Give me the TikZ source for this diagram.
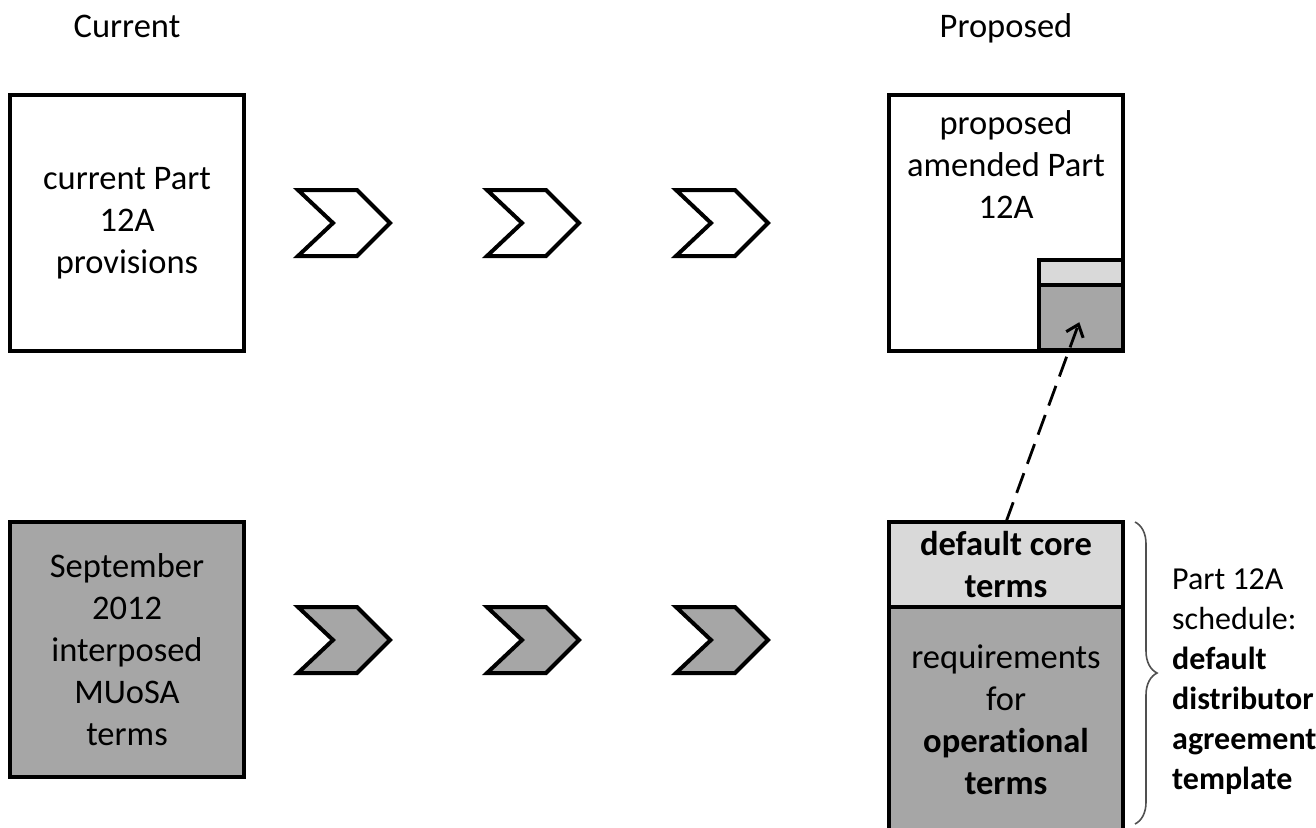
\documentclass[tikz,border=0pt]{standalone}
\usepackage{fontspec}
\setmainfont{Carlito}[Ligatures=NoCommon]
\usetikzlibrary{decorations.pathreplacing,arrows.meta,calc}

\definecolor{dgray}{HTML}{A6A6A6}
\definecolor{lgray}{HTML}{D9D9D9}
\definecolor{bracegray}{HTML}{505050}

\tikzset{
  txt/.style={font=\fontsize{34.5}{42}\selectfont, inner sep=0pt, align=center},
  box/.style={draw=black, line width=4pt, rectangle, inner sep=0pt, outer sep=0pt},
  chevron/.pic={
    \draw[pic actions, line width=4pt, line join=miter]
      (-46,-33) -- (13,-33) -- (46,0) -- (13,33) -- (-46,33) -- (-11,0) -- cycle;
  }
}

\begin{document}
\begin{tikzpicture}[x=1pt,y=-1pt]
\useasboundingbox (0,0) rectangle (1316,827);
\clip (0,0) rectangle (1316,827);

% column headings
\node[txt, anchor=base] (hcur) at (127,37) {Current};
\node[txt, anchor=base] (hprop) at (1006,37) {Proposed};

% current column
\node[box, fill=white, minimum width=234, minimum height=256, txt] (cur) at (127,223)
  {current Part\\12A\\provisions};
\node[box, fill=dgray, minimum width=234, minimum height=255, txt] (sep) at (127,649.5)
  {September\\2012\\interposed\\MUoSA\\terms};

% progression chevrons
\foreach \cx/\nm in {344/a,533/b,722/c}{
  \pic[draw=black, fill=white] (top\nm) at (\cx,223) {chevron};
  \pic[draw=black, fill=dgray] (bot\nm) at (\cx,640) {chevron};
}

% proposed column, upper box with embedded schedule
\node[box, fill=white, minimum width=234, minimum height=256] (prop) at (1006,223) {};
\node[txt, anchor=center] (proptext) at (1006,165) {proposed\\amended Part\\12A};
\node[box, fill=lgray, minimum width=84, minimum height=25] (minicore) at (1081,272.5) {};
\node[box, fill=dgray, minimum width=84, minimum height=65] (miniops) at (1081,317.5) {};

% proposed column, schedule
\node[box, fill=lgray, minimum width=234, minimum height=85, txt, font=\fontsize{34.5}{42}\selectfont\bfseries] (core) at (1006,564.5)
  {default core\\terms};
\node[box, fill=dgray, minimum width=234, minimum height=240] (ops) at (1006,727) {};
\node[txt] (opstext) at (1006,720) {requirements\\for\\\textbf{operational}\\\textbf{terms}};

% link from schedule to embedded copy
\draw[line width=2.8pt, dash pattern=on 21pt off 10pt, -{Straight Barb[length=11pt,width=18pt,line width=3pt]}, shorten >=5pt]
  (core.north) -- (miniops.center);

% brace and side label
\coordinate (bracetop) at (1135,522);
\coordinate (bracebot) at (1135,824);
\draw[bracegray, line width=1.6pt, decorate, decoration={brace, amplitude=22pt}]
  (bracetop) -- (bracebot);
\node[txt, align=left, anchor=west, font=\fontsize{32}{40}\selectfont] (side) at (1172,682)
  {Part 12A\\schedule:\\\textbf{default}\\\textbf{distributor}\\\textbf{agreement}\\\textbf{template}};
\end{tikzpicture}
\end{document}
